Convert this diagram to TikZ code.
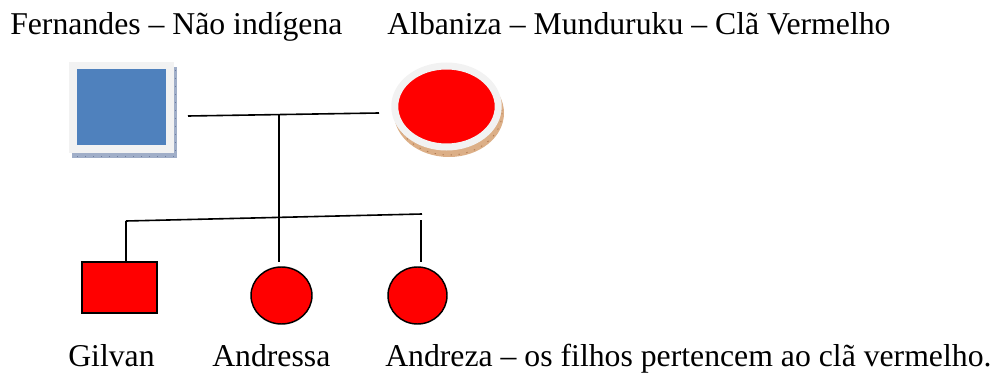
\documentclass[tikz,border=0pt]{standalone}
\usepackage{fontspec}
\newfontfamily\timesfont{Liberation Serif}
\usetikzlibrary{shapes.geometric}
\definecolor{kidred}{RGB}{255,0,0}
\definecolor{fatherblue}{RGB}{79,129,189}
\definecolor{framegray}{RGB}{242,242,242}
\definecolor{shadowblue}{RGB}{160,174,200}
\definecolor{shadowbluedark}{RGB}{110,125,160}
\definecolor{shadowtan}{RGB}{220,175,135}
\definecolor{shadowtandark}{RGB}{175,120,80}
\begin{document}
\begin{tikzpicture}[x=0.75pt,y=-0.75pt,
  lbl/.style={anchor=base west, inner sep=0pt, font=\timesfont\fontsize{23.8}{28}\selectfont},
  link/.style={line width=1.2pt, black},
  kid/.style={draw=black, line width=1.1pt, fill=kidred, inner sep=0pt},
  framed/.style={draw=framegray, inner sep=0pt},
  texture/.style={line width=0.6pt, dash pattern=on 1pt off 5pt}]
\useasboundingbox (0,0) rectangle (999,374);
% shadows of the parent pictures
\fill[shadowblue] (72,67) rectangle (177,158);
\draw[shadowbluedark, texture] (175.5,70) -- (175.5,156.5) -- (74,156.5);
\fill[shadowtan] (449,113) ellipse [x radius=55, y radius=44];
\draw[shadowtandark, texture] (449,113) ellipse [x radius=53, y radius=42];
% parents
\node[framed, line width=5.6pt, fill=fatherblue, minimum width=72.75pt, minimum height=62.6pt] (father) at (121.5,107.25) {};
\node[framed, ellipse, line width=5.25pt, fill=kidred, minimum width=77.6pt, minimum height=60.75pt] (mother) at (446.5,106.5) {};
% children
\node[kid, minimum width=56.25pt, minimum height=38.25pt] (gilvan) at (119.5,287.5) {};
\node[kid, ellipse, minimum width=45.75pt, minimum height=42.75pt] (andressa) at (281.5,295.5) {};
\node[kid, ellipse, minimum width=44.25pt, minimum height=42.75pt] (andreza) at (417.5,295.5) {};
% connector points
\coordinate (pl) at (188,116);
\coordinate (pr) at (379,113);
\coordinate (pm) at (279,115.5);
\coordinate (me) at (279,262);
\coordinate (sl) at (126,221);
\coordinate (sr) at (422,214);
\coordinate (rt) at (421,220);
\coordinate (re) at (421,262);
% connectors
\draw[link] (pl) -- (pr);
\draw[link] (pm) -- (me);
\draw[link] (sl) -- (sr);
\draw[link] (sl) -- (sl |- gilvan.north);
\draw[link] (rt) -- (re);
% labels
\node[lbl] (tf) at (10,35) {Fernandes – Não indígena};
\node[lbl] (tm) at (387,35) {Albaniza – Munduruku – Clã Vermelho};
\node[lbl] (tg) at (68,366) {Gilvan};
\node[lbl] (ta) at (212,366) {Andressa};
\node[lbl] (tz) at (385,366) {Andreza – os filhos pertencem ao clã vermelho.};
\end{tikzpicture}
\end{document}
